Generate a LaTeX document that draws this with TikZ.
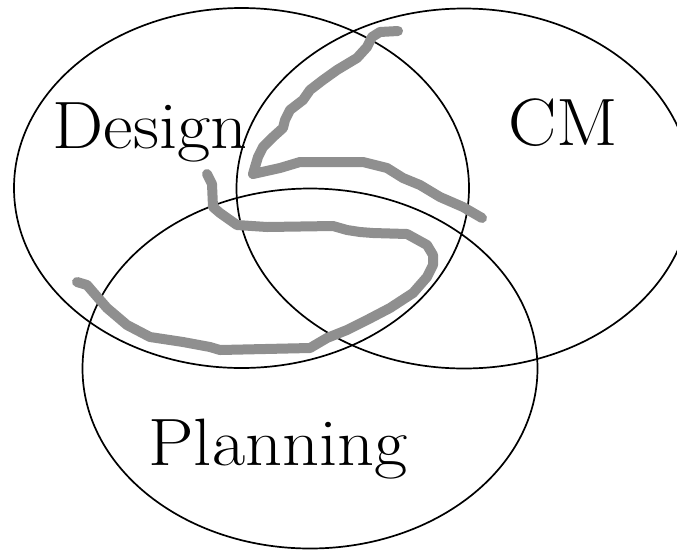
\documentclass[tikz,border=0pt]{standalone}
\usetikzlibrary{shapes.geometric}
\definecolor{scribble}{RGB}{143,143,143}
\newcommand{\widetext}[1]{\scalebox{1.08}[1]{#1}}
\tikzset{
  setellipse/.style={ellipse, draw=black, line width=1.7pt, inner sep=0pt,
    minimum width=455pt, minimum height=360pt},
  setlabel/.style={anchor=base, inner sep=0pt, font=\fontsize{67}{80}\selectfont},
  scribbleline/.style={draw=scribble, line width=10pt, line cap=round, line join=round}
}
\begin{document}
\begin{tikzpicture}[x=1pt,y=-1pt]
\useasboundingbox (0,0) rectangle (677,550);
\node[setellipse] (design) at (241.5,188) {};
\node[setellipse] (cm) at (464,188.5) {};
\node[setellipse] (planning) at (310,368.5) {};
\node[setlabel] (designlabel) at (150,148) {\widetext{Design}};
\node[setlabel] (cmlabel) at (563,145) {\widetext{CM}};
\node[setlabel] (planninglabel) at (278,465) {\widetext{Planning}};
\draw[scribbleline] (398,31) -- (380,32) -- (372,37) -- (367,47) -- (357,58) -- (337,70)
  -- (323,80) -- (310,90) -- (303,100) -- (290,110) -- (285,120) -- (283,128)
  -- (273,137) -- (263,147) -- (258,157) -- (255,167) -- (253,174)
  -- (280,168) -- (300,162) -- (333,162) -- (363,162) -- (387,168) -- (403,178)
  -- (420,185) -- (440,197) -- (463,207) -- (482,218);
\draw[scribbleline] (207,174) -- (212,184) -- (213,207) -- (220,213) -- (237,225)
  -- (267,227) -- (333,226) -- (347,230) -- (360,232) -- (373,233) -- (407,234)
  -- (427,245) -- (433,255) -- (433,265) -- (427,277) -- (413,293) -- (390,308)
  -- (367,320) -- (347,330) -- (327,338) -- (310,348) -- (220,350) -- (210,347)
  -- (183,342) -- (150,337) -- (127,325) -- (107,308) -- (93,292) -- (87,285)
  -- (77,282);
\end{tikzpicture}
\end{document}
